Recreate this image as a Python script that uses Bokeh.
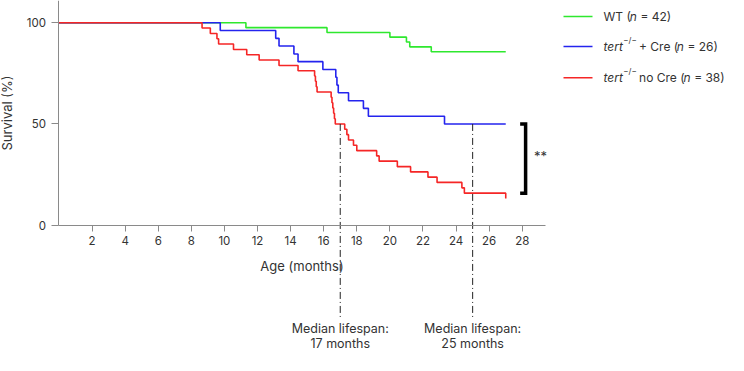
from bokeh.plotting import figure
from bokeh.models import Range1d, FixedTicker
from bokeh.core.properties import value
from bokeh.embed import file_html
from bokeh.resources import INLINE

# ---------------- data ----------------
wt_t = [0, 11.3, 16.2, 20.0, 21.0, 21.2, 22.5, 27.0]
wt_s = [100, 97.6, 95.2, 92.9, 90.5, 88.1, 85.7, 85.7]

cre_t = [0, 9.75, 13.1, 13.3, 14.2, 14.45, 15.95, 16.73, 16.8, 16.88, 17.5, 18.4, 18.7, 23.3, 27.0]
cre_s = [100, 96.2, 92.3, 88.5, 84.6, 80.8, 76.9, 73.1, 69.2, 65.4, 61.5, 57.7, 53.8, 50.0, 50.0]

nocre_t = [0, 8.65, 9.15, 9.55, 9.65, 10.55, 11.35, 12.1, 13.3, 14.45,
           15.45, 15.5, 15.55, 15.6, 16.45, 16.5, 16.55, 16.6, 16.65, 16.7,
           17.27, 17.4, 17.5, 17.8, 18.0, 19.2, 19.35, 20.45, 21.25, 22.3,
           22.85, 24.35, 24.5, 27.0]
nocre_s = [100, 97.4, 94.7, 92.1, 89.5, 86.8, 84.2, 81.6, 78.9, 76.3,
           73.7, 71.1, 68.4, 65.8, 63.2, 60.5, 57.9, 55.3, 52.6, 50.0,
           47.4, 44.7, 42.1, 39.5, 36.8, 34.2, 31.6, 28.9, 26.3, 23.7,
           21.1, 18.4, 15.8, 13.2]

group_names = ["WT", "+ Cre", "no Cre"]
n_mice = [42, 26, 38]
group_colors = ["#2ee82e", "#2424ee", "#f52626"]

medians = [17, 25]              # months
x_ticks = list(range(2, 29, 2))
y_ticks = [0, 50, 100]
significance = "**"

# ---------------- figure ----------------
W, H = 728, 355
FONT = "Inter"
AX = "#8a8a8a"
TXT = "#333333"

p = figure(width=W, height=H, output_backend="svg", toolbar_location=None,
           x_range=Range1d(-3.529, 40.46), y_range=Range1d(-64.46, 111.02),
           min_border=0, min_border_left=0, min_border_right=0,
           min_border_top=0, min_border_bottom=0)
p.outline_line_color = None
p.grid.visible = False
p.background_fill_color = "white"
p.border_fill_color = "white"
p.extra_x_ranges = {"px": Range1d(0, W)}
p.extra_y_ranges = {"px": Range1d(H, 0)}

# axes, pinned at 0
p.xaxis.fixed_location = 0
p.yaxis.fixed_location = 0
p.xaxis.ticker = FixedTicker(ticks=x_ticks)
p.yaxis.ticker = FixedTicker(ticks=y_ticks)
p.xaxis.bounds = (0, 29.4)
p.yaxis.bounds = (0, 111.02)
for ax in (p.xaxis, p.yaxis):
    ax.axis_line_color = AX
    ax.axis_line_width = 1
    ax.major_tick_line_color = AX
    ax.minor_tick_line_color = None
    ax.major_tick_in = 0
    ax.major_label_text_font = FONT
    ax.major_label_text_font_size = "11.5px"
    ax.major_label_text_color = TXT
    ax.axis_label_text_font = FONT
    ax.axis_label_text_font_style = "normal"
    ax.axis_label_text_color = TXT
p.xaxis.major_tick_out = 6
p.yaxis.major_tick_out = 7
p.xaxis.major_label_standoff = 5
p.yaxis.major_label_standoff = 6
p.xaxis.axis_label = "Age (months)"
p.yaxis.axis_label = "Survival (%)"
p.xaxis.axis_label_text_font_size = "13px"
p.yaxis.axis_label_text_font_size = "13px"
p.xaxis.axis_label_standoff = 9
p.yaxis.axis_label_standoff = 8

# survival curves
for t, s, c in zip([wt_t, cre_t, nocre_t], [wt_s, cre_s, nocre_s], group_colors):
    p.step(t, s, mode="after", line_color=c, line_width=1.6)

# median lines (from the curve at 50 % down below the axis)
p.segment(x0=medians, y0=[50] * len(medians), x1=medians, y1=[-46.5] * len(medians),
          line_color="#222222", line_width=1, line_dash="7 3 1 3")
p.text(x=medians, y=[328] * len(medians), y_range_name="px",
       text=["Median lifespan:"] * len(medians),
       text_font=value(FONT), text_font_size="12.5px", text_color=TXT,
       text_align="center", text_baseline="middle")
p.text(x=medians, y=[342.5] * len(medians), y_range_name="px",
       text=[f"{m} months" for m in medians],
       text_font=value(FONT), text_font_size="12.5px", text_color=TXT,
       text_align="center", text_baseline="middle")

# significance bracket between the two tert curves
top, bot = cre_s[-1], nocre_s[-2]
bx, bw = 28.2, 0.33
p.line(x=[bx - bw, bx, bx, bx - bw], y=[top, top, bot, bot],
       line_color="black", line_width=3.5, line_join="miter")
p.text(x=[bx + 0.9], y=[(top + bot) / 2 + 1.5], text=[significance],
       text_font=value(FONT), text_font_size="13px", text_color=TXT,
       text_align="center", text_baseline="middle")

# ---------------- legend (rich text) ----------------
CW = {' ': 0.27, '(': 0.35, ')': 0.35, '=': 0.6, '+': 0.6, '\u2212': 0.6, '/': 0.36,
      'W': 0.95, 'T': 0.62, 'n': 0.58, 't': 0.34, 'e': 0.56, 'r': 0.37, 'C': 0.72,
      'o': 0.58}
def tw(s, size):
    return sum(CW.get(ch, 0.6) for ch in s) * size

FS = 12
row_y = [16, 46, 77.3]
sw_x0, sw_x1, tx0 = 563, 592, 603
for i, (g, n, c) in enumerate(zip(group_names, n_mice, group_colors)):
    y = row_y[i]
    p.line(x=[sw_x0, sw_x1], y=[y, y], x_range_name="px", y_range_name="px",
           line_color=c, line_width=1.6)
    if i == 0:
        pieces = [(g + " (", "normal", FS, 0), ("n", "italic", FS, 0), (f" = {n})", "normal", FS, 0)]
    else:
        pieces = [("tert", "italic", FS, 0), ("\u2212/\u2212", "normal", 8, -6.5),
                  (f" {g} (", "normal", FS, 0), ("n", "italic", FS, 0), (f" = {n})", "normal", FS, 0)]
    x = tx0
    for txt, style, size, dy in pieces:
        lead = len(txt) - len(txt.lstrip(" "))
        x += tw(" " * lead, size)
        core = txt.strip(" ")
        p.text(x=[x], y=[y + dy], text=[core], x_range_name="px", y_range_name="px",
               text_font=value(FONT), text_font_size=f"{size}px", text_font_style=style,
               text_color=TXT, text_align="left", text_baseline="middle")
        x += tw(core, size)
        if style == "italic":
            x += 0.5
        trail = len(txt) - len(txt.rstrip(" "))
        x += tw(" " * trail, size)

open("out.html", "w").write(file_html(p, INLINE))
